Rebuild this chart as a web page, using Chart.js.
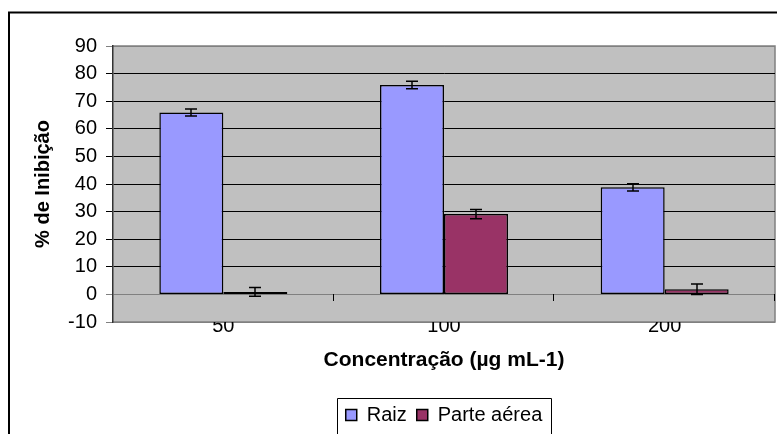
<!DOCTYPE html>
<html lang="pt">

<head>
  <meta charset="UTF-8">
  <title>% de Inibição</title>
  <style>
    body {
      margin: 0;
      background: #fff;
    }

    canvas {
      display: block;
    }
  </style>
  <script src="https://cdn.jsdelivr.net/npm/chart.js"></script>
</head>

<body>
  <canvas id="grafico" width="777" height="434"></canvas>

  <script>
    // concentrações (µg mL-1) e % de inibição médio, com erro
    var concentracoes = ['50', '100', '200'];
    var raiz = [65.9, 75.9, 38.8];
    var raizErro = [1.25, 1.35, 1.3];
    var parteAerea = [0.9, 29.1, 1.9];
    var parteAereaErro = [1.6, 1.7, 1.9];
    var yTicks = [-10, 0, 10, 20, 30, 40, 50, 60, 70, 80, 90];

    var fonte = '"Liberation Sans", Arial, sans-serif';

    // moldura externa, fundo cinza e borda da área do gráfico
    var fundoPlugin = {
      id: 'fundo',
      beforeDraw: function (chart) {
        var ctx = chart.ctx, a = chart.chartArea;
        ctx.save();
        ctx.strokeStyle = '#000';
        ctx.lineWidth = 2;
        ctx.beginPath();
        ctx.moveTo(9, chart.height);
        ctx.lineTo(9, 12.5);
        ctx.lineTo(chart.width, 12.5);
        ctx.stroke();
        ctx.fillStyle = '#c0c0c0';
        ctx.fillRect(a.left, a.top, a.right - a.left, a.bottom - a.top);
        ctx.strokeStyle = '#808080';
        ctx.lineWidth = 1.5;
        ctx.beginPath();
        ctx.moveTo(a.left, a.top);
        ctx.lineTo(a.right, a.top);
        ctx.lineTo(a.right, a.bottom);
        ctx.lineTo(a.left, a.bottom);
        ctx.stroke();
        ctx.restore();
      },
      beforeDatasetsDraw: function (chart) {
        var ctx = chart.ctx;
        var x = chart.scales.x, y = chart.scales.y;
        // marcas do eixo x sobre a linha do zero, entre as categorias
        var y0 = Math.round(y.getPixelForValue(0));
        var passo = (x.right - x.left) / concentracoes.length;
        ctx.save();
        ctx.strokeStyle = '#000';
        ctx.lineWidth = 1;
        ctx.beginPath();
        for (var i = 1; i <= concentracoes.length; i++) {
          var px = Math.round(x.left + passo * i) - 0.5;
          ctx.moveTo(px, y0);
          ctx.lineTo(px, y0 + 7);
        }
        ctx.stroke();
        ctx.restore();
      }
    };

    // barras de erro
    var erroPlugin = {
      id: 'barrasErro',
      afterDatasetsDraw: function (chart) {
        var ctx = chart.ctx, y = chart.scales.y;
        var erros = [raizErro, parteAereaErro];
        ctx.save();
        ctx.strokeStyle = '#000';
        ctx.lineWidth = 1.5;
        chart.data.datasets.forEach(function (ds, d) {
          var meta = chart.getDatasetMeta(d);
          meta.data.forEach(function (bar, i) {
            var v = ds.data[i], e = erros[d][i];
            var yt = y.getPixelForValue(v + e), yb = y.getPixelForValue(v - e);
            var cx = Math.round(bar.x);
            ctx.beginPath();
            ctx.moveTo(cx, yt);
            ctx.lineTo(cx, yb);
            ctx.moveTo(cx - 6, yt);
            ctx.lineTo(cx + 6, yt);
            ctx.moveTo(cx - 6, yb);
            ctx.lineTo(cx + 6, yb);
            ctx.stroke();
          });
        });
        ctx.restore();
      },
      afterDraw: function (chart) {
        // moldura da legenda
        var boxes = chart.legend.legendHitBoxes;
        if (!boxes || !boxes.length) return;
        var l = boxes[0].left - 9;
        var last = boxes[boxes.length - 1];
        var r = last.left + last.width + 9;
        var t = Math.round(boxes[0].top - 7) + 0.5;
        var ctx = chart.ctx;
        ctx.save();
        ctx.strokeStyle = '#000';
        ctx.lineWidth = 1;
        ctx.beginPath();
        ctx.moveTo(Math.round(l) + 0.5, chart.height + 2);
        ctx.lineTo(Math.round(l) + 0.5, t);
        ctx.lineTo(Math.round(r) + 0.5, t);
        ctx.lineTo(Math.round(r) + 0.5, chart.height + 2);
        ctx.stroke();
        ctx.restore();
      }
    };

    new Chart(document.getElementById('grafico'), {
      type: 'bar',
      data: {
        labels: concentracoes,
        datasets: [
          {
            label: 'Raiz',
            data: raiz,
            backgroundColor: '#9999ff',
            borderColor: '#000',
            borderWidth: 1.5,
            borderSkipped: false
          },
          {
            label: 'Parte aérea',
            data: parteAerea,
            backgroundColor: '#993366',
            borderColor: '#000',
            borderWidth: 1.5,
            borderSkipped: false
          }
        ]
      },
      options: {
        responsive: false,
        animation: false,
        devicePixelRatio: 1,
        datasets: {
          bar: {
            categoryPercentage: 0.58,
            barPercentage: 1.0
          }
        },
        layout: {
          padding: { left: 0, top: 46, right: 2, bottom: -1 }
        },
        plugins: {
          tooltip: { enabled: false },
          legend: {
            position: 'bottom',
            fullSize: false,
            labels: {
              color: '#000',
              boxWidth: 11,
              boxHeight: 11,
              padding: 10,
              font: { family: fonte, size: 20 }
            }
          }
        },
        scales: {
          x: {
            grid: { display: false },
            border: { display: false },
            ticks: {
              color: '#000',
              padding: -16,
              font: { family: fonte, size: 20 }
            },
            title: {
              display: true,
              text: 'Concentração (µg mL-1)',
              color: '#000',
              padding: { top: 0, bottom: 22 },
              font: { family: fonte, size: 21, weight: 'bold' }
            },
            afterFit: function (scale) { scale.height = 73; }
          },
          y: {
            min: -10,
            max: 90,
            afterBuildTicks: function (scale) {
              scale.ticks = yTicks.map(function (v) { return { value: v }; });
            },
            grid: {
              // linhas do zero e das bordas em cinza, demais em preto
              color: function (c) {
                var v = c.tick ? c.tick.value : null;
                return (v === 0 || v === -10 || v === 90) ? '#808080' : '#000';
              },
              lineWidth: 1,
              tickLength: 7
            },
            border: { display: true, color: '#333', width: 1.5 },
            ticks: {
              color: '#000',
              padding: 9,
              font: { family: fonte, size: 20 }
            },
            title: {
              display: true,
              text: '% de Inibição',
              color: '#000',
              padding: { top: 31, bottom: 0 },
              font: { family: fonte, size: 20, weight: 'bold' }
            },
            afterFit: function (scale) { scale.width = 113; }
          }
        }
      },
      plugins: [fundoPlugin, erroPlugin]
    });
  </script>
</body>

</html>
